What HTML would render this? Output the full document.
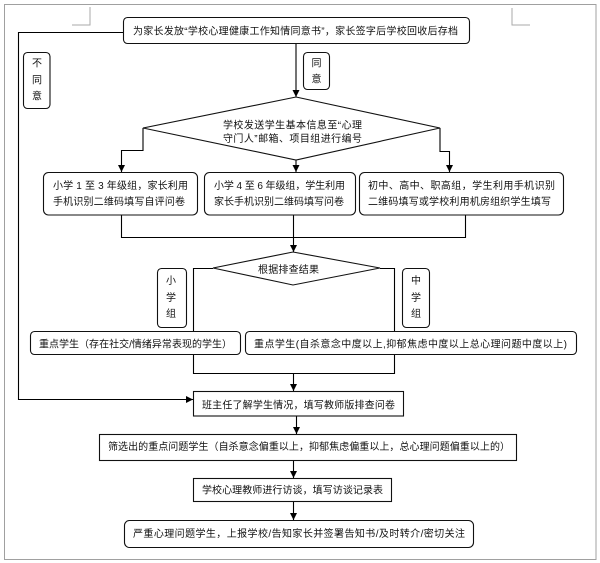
<!DOCTYPE html>
<html><head><meta charset="utf-8"><style>
html,body{margin:0;padding:0;background:#fff;}
svg{display:block;}
text{font-family:"Liberation Sans","Noto Sans CJK SC",sans-serif;font-size:10px;fill:#111;}
</style></head><body>
<svg width="600" height="563" viewBox="0 0 600 563" xmlns="http://www.w3.org/2000/svg">
<defs>
<marker id="a" markerWidth="8" markerHeight="8" refX="7" refY="4" orient="auto" markerUnits="userSpaceOnUse">
<path d="M0,0.5 L7,4 L0,7.5 Z" fill="#000"/>
</marker>
</defs>
<!-- outer frame -->
<rect x="4.5" y="4.5" width="591.5" height="555" fill="none" stroke="#a0a0a0" stroke-width="1"/>
<!-- corner marks -->
<path d="M90,7 V25 H72" fill="none" stroke="#aaa" stroke-width="1"/>
<path d="M512,8 V25 H530" fill="none" stroke="#aaa" stroke-width="1"/>

<g fill="none" stroke="#000" stroke-width="1.1">
<!-- left loop (disagree) -->
<path d="M123,32.5 H18.5 V399.5 H193" marker-end="url(#a)"/>
<!-- agree arrow -->
<path d="M296,44 V97" marker-end="url(#a)"/>
<!-- diamond1 branches -->
<path d="M143,128 V150.5 H121.5 V172" marker-end="url(#a)"/>
<path d="M440,128 V151.5 H449.5 V172" marker-end="url(#a)"/>
<path d="M296,160 V172" marker-end="url(#a)"/>
<!-- merge from three boxes -->
<path d="M121.5,215 V237.5 H465.5 V215"/>
<path d="M293.5,215 V252" marker-end="url(#a)"/>
<!-- diamond 2 enclosure -->
<path d="M213,268.5 H193.5 V373.5 H394.5 V268.5 H380"/>
<path d="M293.5,373.5 V391" marker-end="url(#a)"/>
<!-- lower chain -->
<path d="M296.5,416 V434" marker-end="url(#a)"/>
<path d="M293.5,461 V478" marker-end="url(#a)"/>
<path d="M293.5,502 V520" marker-end="url(#a)"/>
</g>

<g fill="#fff" stroke="#111" stroke-width="1.1">
<!-- top box -->
<rect x="123.5" y="17.5" width="346" height="26" rx="4"/>
<!-- 不同意 -->
<rect x="23.5" y="52.5" width="26.5" height="56" rx="4"/>
<!-- 同意 -->
<rect x="303.5" y="52.5" width="26" height="37" rx="4"/>
<!-- diamond 1 -->
<path d="M296,97 L440,128 L296,160 L143,128 Z"/>
<!-- three boxes -->
<rect x="43.5" y="172.5" width="154" height="42.5" rx="5"/>
<rect x="204.5" y="172.5" width="151" height="42.5" rx="5"/>
<rect x="359.5" y="172.5" width="204" height="42.5" rx="5"/>
<!-- diamond 2 -->
<path d="M293,252 L380,268 L293,285 L213,268 Z"/>
<!-- group labels -->
<rect x="157.5" y="268.5" width="29" height="59" rx="4"/>
<rect x="402.5" y="268.5" width="27" height="59" rx="4"/>
<!-- key student boxes -->
<rect x="30.5" y="331.5" width="210" height="23" rx="4"/>
<rect x="245.5" y="331.5" width="331" height="23" rx="4"/>
<!-- lower boxes -->
<rect x="193.5" y="391.5" width="210" height="24.5"/>
<rect x="99.5" y="434.5" width="417" height="26"/>
<rect x="193.5" y="478.5" width="198" height="23"/>
<rect x="124.5" y="520.5" width="349" height="27" rx="5"/>
</g>

<!-- texts -->
<text x="133" y="34.5" textLength="325" lengthAdjust="spacing">为家长发放“学校心理健康工作知情同意书”，家长签字后学校回收后存档</text>

<g text-anchor="middle">
<text x="37" y="66.5">不</text>
<text x="37" y="83.5">同</text>
<text x="37" y="99.5">意</text>
<text x="316.5" y="66.5">同</text>
<text x="316.5" y="82.5">意</text>
<text x="171" y="284">小</text>
<text x="171" y="301">学</text>
<text x="171" y="317">组</text>
<text x="416" y="284">中</text>
<text x="416" y="301">学</text>
<text x="416" y="317">组</text>
</g>

<text x="223" y="128.5" textLength="139" lengthAdjust="spacing">学校发送学生基本信息至“心理</text>
<text x="223" y="142" textLength="139" lengthAdjust="spacing">守门人”邮箱、项目组进行编号</text>

<text x="53" y="189" textLength="135" lengthAdjust="spacing">小学 1 至 3 年级组，家长利用</text>
<text x="53" y="205" textLength="132" lengthAdjust="spacing">手机识别二维码填写自评问卷</text>
<text x="214" y="189" textLength="131" lengthAdjust="spacing">小学 4 至 6 年级组，学生利用</text>
<text x="214" y="205" textLength="130" lengthAdjust="spacing">家长手机识别二维码填写问卷</text>
<text x="368" y="189" textLength="187" lengthAdjust="spacing">初中、高中、职高组，学生利用手机识别</text>
<text x="368" y="205" textLength="183" lengthAdjust="spacing">二维码填写或学校利用机房组织学生填写</text>

<text x="258" y="273" textLength="61" lengthAdjust="spacing">根据排查结果</text>

<text x="39" y="347.5" textLength="193" lengthAdjust="spacing">重点学生（存在社交/情绪异常表现的学生）</text>
<text x="254" y="347.5" textLength="313" lengthAdjust="spacing">重点学生(自杀意念中度以上,抑郁焦虑中度以上总心理问题中度以上)</text>

<text x="202" y="408.5" textLength="193" lengthAdjust="spacing">班主任了解学生情况，填写教师版排查问卷</text>
<text x="108" y="450" textLength="402" lengthAdjust="spacing">筛选出的重点问题学生（自杀意念偏重以上，抑郁焦虑偏重以上，总心理问题偏重以上的）</text>
<text x="202" y="493.5" textLength="181" lengthAdjust="spacing">学校心理教师进行访谈，填写访谈记录表</text>
<text x="133" y="537" textLength="332" lengthAdjust="spacing">严重心理问题学生，上报学校/告知家长并签署告知书/及时转介/密切关注</text>
</svg>
</body></html>
